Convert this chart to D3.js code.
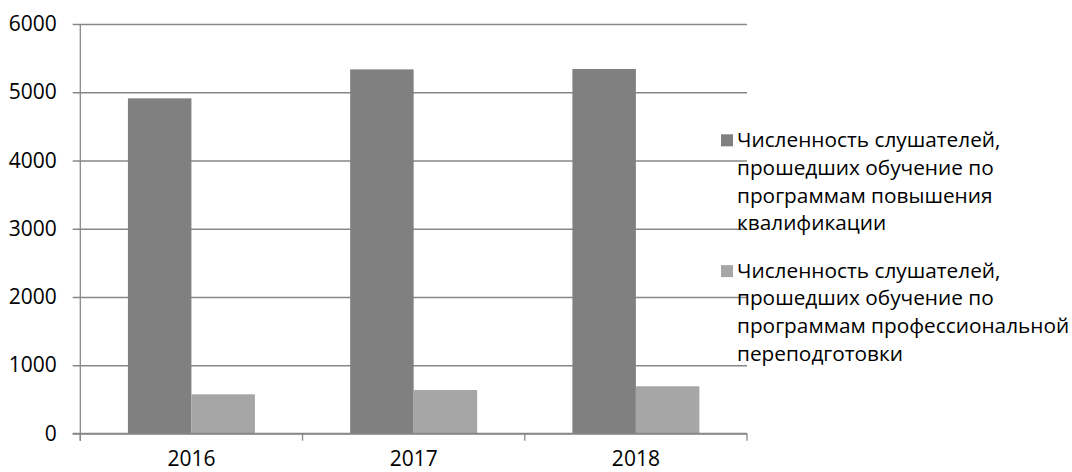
<!DOCTYPE html>
<html>
<head>
<meta charset="utf-8">
<script src="https://cdn.jsdelivr.net/npm/d3@7"></script>
<style>
  body { margin: 0; background: #fff; }
  svg text { font-family: "Open Sans", sans-serif; fill: #000; }
</style>
</head>
<body>
<div id="chart"></div>
<script>
// DATA
const years = ["2016", "2017", "2018"];
const series = ["qual", "retrain"];
const qualValues = [4911, 5335, 5341];      // повышение квалификации
const retrainValues = [574, 637, 692];      // профессиональная переподготовка
const yTicks = [0, 1000, 2000, 3000, 4000, 5000, 6000];
const legendLines = [
  ["Численность слушателей,", "прошедших обучение по", "программам повышения", "квалификации"],
  ["Численность слушателей,", "прошедших обучение по", "программам профессиональной", "переподготовки"]
];
const colors = ["#808080", "#a6a6a6"];

// LAYOUT
const width = 1072, height = 472;
const plot = { left: 80.3, right: 747, top: 24, bottom: 433.5 };

const svg = d3.select("#chart").append("svg")
  .attr("width", width)
  .attr("height", height);

// SCALES
const xScale = d3.scaleBand()
  .domain(years)
  .range([plot.left, plot.right])
  .padding(0);

const xInner = d3.scaleBand()
  .domain(series)
  .range([0, xScale.bandwidth()])
  .paddingInner(0)
  .paddingOuter(0.75);

const yScale = d3.scaleLinear()
  .domain([0, 6000])
  .range([plot.bottom, plot.top]);

// gridlines + y labels (axis placed on right edge, ticks reach left past the axis)
const gridAxis = d3.axisLeft(yScale)
  .tickValues(yTicks)
  .tickSize(plot.right - 72.7)
  .tickPadding(16)
  .tickFormat(d3.format("d"));

const gy = svg.append("g")
  .attr("transform", `translate(${plot.right},0)`)
  .call(gridAxis);
gy.select(".domain").remove();
gy.selectAll("line").attr("stroke", "#878787").attr("stroke-width", 1.3);
gy.selectAll("text").style("font-size", "21px").attr("fill", "#000");

// bars
const rows = years.map((y, i) => ({ year: y, values: [qualValues[i], retrainValues[i]] }));

svg.append("g")
  .selectAll("g")
  .data(rows)
  .join("g")
  .attr("transform", d => `translate(${xScale(d.year)},0)`)
  .selectAll("rect")
  .data(d => d.values.map((v, j) => ({ key: series[j], value: v, j })))
  .join("rect")
  .attr("x", d => xInner(d.key))
  .attr("width", xInner.bandwidth())
  .attr("y", d => yScale(d.value))
  .attr("height", d => yScale(0) - yScale(d.value))
  .attr("fill", d => colors[d.j]);

// y axis line
svg.append("line")
  .attr("x1", plot.left).attr("x2", plot.left)
  .attr("y1", plot.top).attr("y2", plot.bottom + 7.2)
  .attr("stroke", "#878787").attr("stroke-width", 1.3);

// x axis baseline
svg.append("line")
  .attr("x1", 72.7).attr("x2", plot.right)
  .attr("y1", plot.bottom).attr("y2", plot.bottom)
  .attr("stroke", "#878787").attr("stroke-width", 1.3);

// category boundary ticks
const bounds = years.map(y => xScale(y)).concat([xScale(years[years.length - 1]) + xScale.bandwidth()]);
svg.append("g")
  .selectAll("line")
  .data(bounds)
  .join("line")
  .attr("x1", d => d).attr("x2", d => d)
  .attr("y1", plot.bottom).attr("y2", plot.bottom + 7.2)
  .attr("stroke", "#878787").attr("stroke-width", 1.3);

// x labels
const xAxis = d3.axisBottom(xScale).tickSize(0).tickPadding(0);
const gx = svg.append("g")
  .attr("transform", `translate(0,${plot.bottom})`)
  .call(xAxis);
gx.select(".domain").remove();
gx.selectAll("text")
  .attr("y", 32)
  .attr("dy", 0)
  .style("font-size", "21px")
  .attr("fill", "#000");

// legend
const legendTop = [146.7, 277.5];
const lineStep = 27.9;
const legend = svg.append("g");
legendLines.forEach((lines, i) => {
  legend.append("rect")
    .attr("x", 721)
    .attr("y", legendTop[i] - 12.4)
    .attr("width", 12)
    .attr("height", 12)
    .attr("fill", colors[i]);
  legend.append("g")
    .selectAll("text")
    .data(lines)
    .join("text")
    .attr("x", 737)
    .attr("y", (d, k) => legendTop[i] + k * lineStep)
    .style("font-size", "20.8px")
    .text(d => d);
});
</script>
</body>
</html>
